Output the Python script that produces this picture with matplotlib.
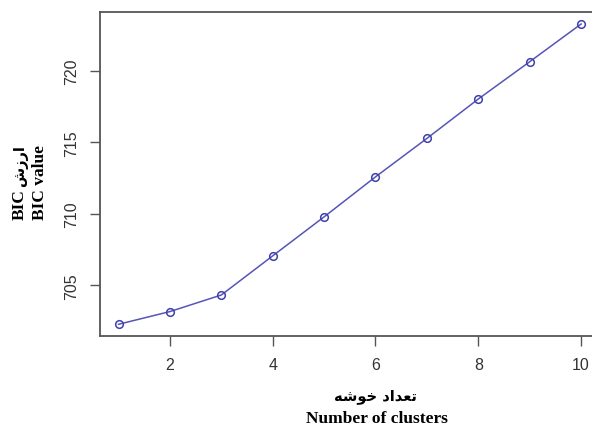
import matplotlib
matplotlib.use("Agg")
import matplotlib.pyplot as plt

# values
clusters = [1, 2, 3, 4, 5, 6, 7, 8, 9, 10]
bic = [702.27, 703.16, 704.32, 707.06, 709.79, 712.59, 715.28, 718.04, 720.65, 723.29]
x_ticks = [2, 4, 6, 8, 10]
y_ticks = [705, 710, 715, 720]

# Persian labels, pre-shaped (presentation forms, visual order)
fa_xlabel = "\uFEEA\uFEB7\uFEEE\uFEA7 \uFEA9\uFE8D\uFEAA\uFECC\uFE97"   # تعداد خوشه
fa_ylabel = "\uFEB5\uFEAF\uFEAD\uFE8D"                                # ارزش

W, H = 592, 427
fig = plt.figure(figsize=(W / 100, H / 100), dpi=100)
# R-style box, right edge falls just outside the image
ax = fig.add_axes([100 / W, (H - 337.3) / H, 499.6 / W, 324.3 / H])

ax.plot(clusters, bic, color="#5555b8", lw=1.1, marker="o", ms=5.5,
        mfc="none", mec="#4040ad", mew=1.1)

xr = max(clusters) - min(clusters)
yr = max(bic) - min(bic)
ax.set_xlim(min(clusters) - 0.04 * xr, max(clusters) + 0.04 * xr)
ax.set_ylim(min(bic) - 0.04 * yr, max(bic) + 0.04 * yr)

ax.set_xticks(x_ticks)
ax.set_yticks(y_ticks)
ax.tick_params(direction="out", length=7, width=1, color="#555555",
               labelcolor="#333333", labelsize=11.5, pad=8)
for lab in ax.get_xticklabels() + ax.get_yticklabels():
    lab.set_family("Liberation Sans")
for lab in ax.get_yticklabels():
    lab.set_rotation(90)
    lab.set_va("center")

for s in ax.spines.values():
    s.set_color("#555555")
    s.set_linewidth(1.3)

en_font = dict(family=["Liberation Serif", "DejaVu Sans"], weight="bold",
               size=12.5, color="black")
fa_font = dict(family=["DejaVu Sans"], weight="bold", size=10.5, color="black")
fig.text(376 / W, 1 - 397 / H, fa_xlabel, ha="center", va="center", **fa_font)
fig.text(377 / W, 1 - 419 / H, "Number of clusters", ha="center", va="center", **en_font)

# y label: first line "BIC" + Persian, second line "BIC value"
fig.text(20 / W, 1 - 205 / H, "BIC", rotation=90, ha="center", va="center", **en_font)
fig.text(21 / W, 1 - 166 / H, fa_ylabel, rotation=90, ha="center", va="center", **fa_font)
fig.text(40 / W, 1 - 182 / H, "BIC value", rotation=90, ha="center", va="center", **en_font)

fig.savefig("out.png", dpi=100)
